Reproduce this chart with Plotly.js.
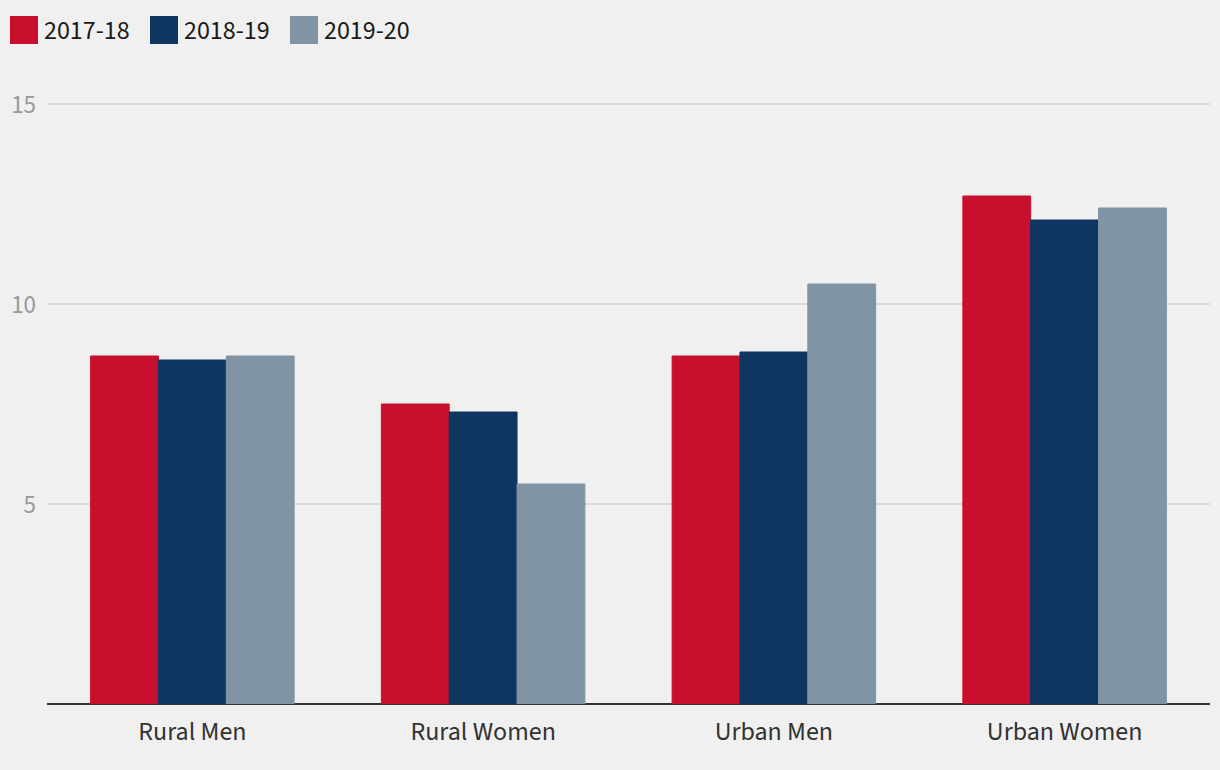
<!DOCTYPE html>
<html>
<head>
<meta charset="utf-8">
<script src="https://cdn.plot.ly/plotly-3.0.1.min.js"></script>
<style>
html,body{margin:0;padding:0;background:#f0f0f0;}
#chart{width:1220px;height:770px;}
</style>
</head>
<body>
<div id="chart"></div>
<script>
const categories = ["Rural Men", "Rural Women", "Urban Men", "Urban Women"];
const seriesNames = ["2017-18", "2018-19", "2019-20"];
const values2017 = [8.7, 7.5, 8.7, 12.7];
const values2018 = [8.6, 7.3, 8.8, 12.1];
const values2019 = [8.7, 5.5, 10.5, 12.4];
const yTicks = [5, 10, 15];
const colors = ["#c8102e", "#0e3660", "#8094a3"];

const W = 1220, H = 770;
const M = {l: 47, r: 10, t: 80, b: 66};
const PW = W - M.l - M.r, PH = H - M.t - M.b;
const FONT = "'Source Sans Pro', 'Source Sans 3', Lato, 'Noto Sans', sans-serif";

const allVals = [values2017, values2018, values2019];
const traces = allVals.map((v, i) => ({
  type: "bar",
  name: seriesNames[i],
  x: categories,
  y: v,
  marker: {color: colors[i], line: {width: 1, color: colors[i]}},
  hoverinfo: "skip",
  showlegend: false
}));

function px2x(px) { return (px - M.l) / PW; }
function px2y(py) { return (M.t + PH - py) / PH; }

const legendX = [10, 150, 290];
const shapes = [];
const annotations = [];
legendX.forEach((lx, i) => {
  shapes.push({
    type: "rect", xref: "paper", yref: "paper",
    x0: px2x(lx), x1: px2x(lx + 28), y0: px2y(44), y1: px2y(16),
    fillcolor: colors[i], line: {width: 0}
  });
  annotations.push({
    xref: "paper", yref: "paper",
    x: px2x(lx + 32), y: px2y(30),
    xanchor: "left", yanchor: "middle",
    text: seriesNames[i], showarrow: false,
    font: {family: FONT, size: 26, color: "#1a1a1a"}
  });
});

const layout = {
  width: W, height: H,
  margin: M,
  paper_bgcolor: "#f0f0f0",
  plot_bgcolor: "#f0f0f0",
  barmode: "group",
  bargap: 0.3,
  bargroupgap: 0,
  showlegend: false,
  font: {family: FONT},
  xaxis: {
    type: "category",
    showgrid: false,
    zeroline: false,
    showline: false,
    ticks: "",
    ticklabelstandoff: 9,
    tickfont: {family: FONT, size: 26, color: "#333333"},
    fixedrange: true
  },
  yaxis: {
    range: [0, 15.6],
    tickvals: yTicks,
    ticktext: yTicks.map(String),
    showgrid: true,
    gridcolor: "#d9d9d9",
    gridwidth: 2,
    zeroline: true,
    zerolinecolor: "#333333",
    zerolinewidth: 2,
    showline: false,
    ticks: "",
    ticklabelstandoff: 10,
    tickfont: {family: FONT, size: 25, color: "#999999"},
    fixedrange: true
  },
  shapes: shapes,
  annotations: annotations
};

Plotly.newPlot("chart", traces, layout, {displayModeBar: false, staticPlot: true});
</script>
</body>
</html>
